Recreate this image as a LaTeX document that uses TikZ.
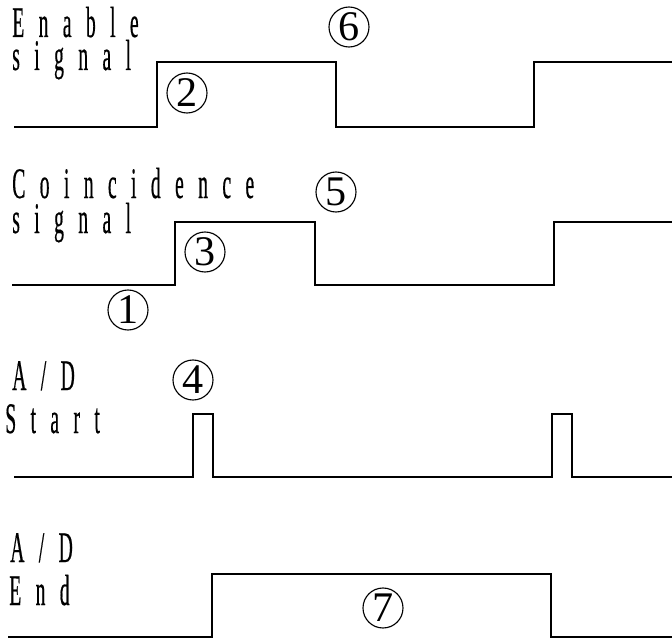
\documentclass[tikz,border=0pt]{standalone}
\usepackage{fontspec}
\setmainfont{Liberation Serif}
\newfontfamily\sigfont[FakeStretch=0.45,LetterSpace=33,FakeBold=0.4]{Liberation Serif}

\tikzset{
  wave/.style={line width=1.3pt, line join=miter},
  sigtext/.style={anchor=base west, inner sep=0pt, font=\sigfont\fontsize{31}{33}\selectfont},
  circnum/.style={circle, draw, line width=0.8pt, minimum size=1cm, inner sep=0pt,
    font=\fontsize{30}{30}\selectfont}
}

\begin{document}
\begin{tikzpicture}[x=0.025cm, y=-0.025cm]
\useasboundingbox (0,0) rectangle (672,644);

% enable signal
\node[sigtext] (en1) at (12,37) {Enable};
\node[sigtext] (en2) at (12,70) {signal};
\draw[wave] (14,127) -- (157,127) -- (157,62) -- (336,62) -- (336,127)
  -- (534,127) -- (534,62) -- (672,62);
\node[circnum] (n2) at (187,93) {2};
\node[circnum] (n6) at (349,27) {6};

% coincidence signal
\node[sigtext] (co1) at (12,198) {Coincidence};
\node[sigtext] (co2) at (12,233) {signal};
\draw[wave] (12,285) -- (175,285) -- (175,222) -- (315,222) -- (315,285)
  -- (554,285) -- (554,222) -- (672,222);
\node[circnum] (n1) at (128,310) {1};
\node[circnum] (n3) at (205,252) {3};
\node[circnum] (n5) at (336,192) {5};

% A/D start
\node[sigtext] (st1) at (12,390) {A/D};
\node[sigtext] (st2) at (5,433) {Start};
\draw[wave] (14,477) -- (193,477) -- (193,414) -- (213,414) -- (213,477)
  -- (552,477) -- (552,414) -- (572,414) -- (572,477) -- (672,477);
\node[circnum] (n4) at (193,380) {4};

% A/D end
\node[sigtext] (ed1) at (10,562) {A/D};
\node[sigtext] (ed2) at (9,605) {End};
\draw[wave] (8,637) -- (212,637) -- (212,574) -- (551,574) -- (551,637) -- (672,637);
\node[circnum] (n7) at (383,608) {7};

\end{tikzpicture}
\end{document}
